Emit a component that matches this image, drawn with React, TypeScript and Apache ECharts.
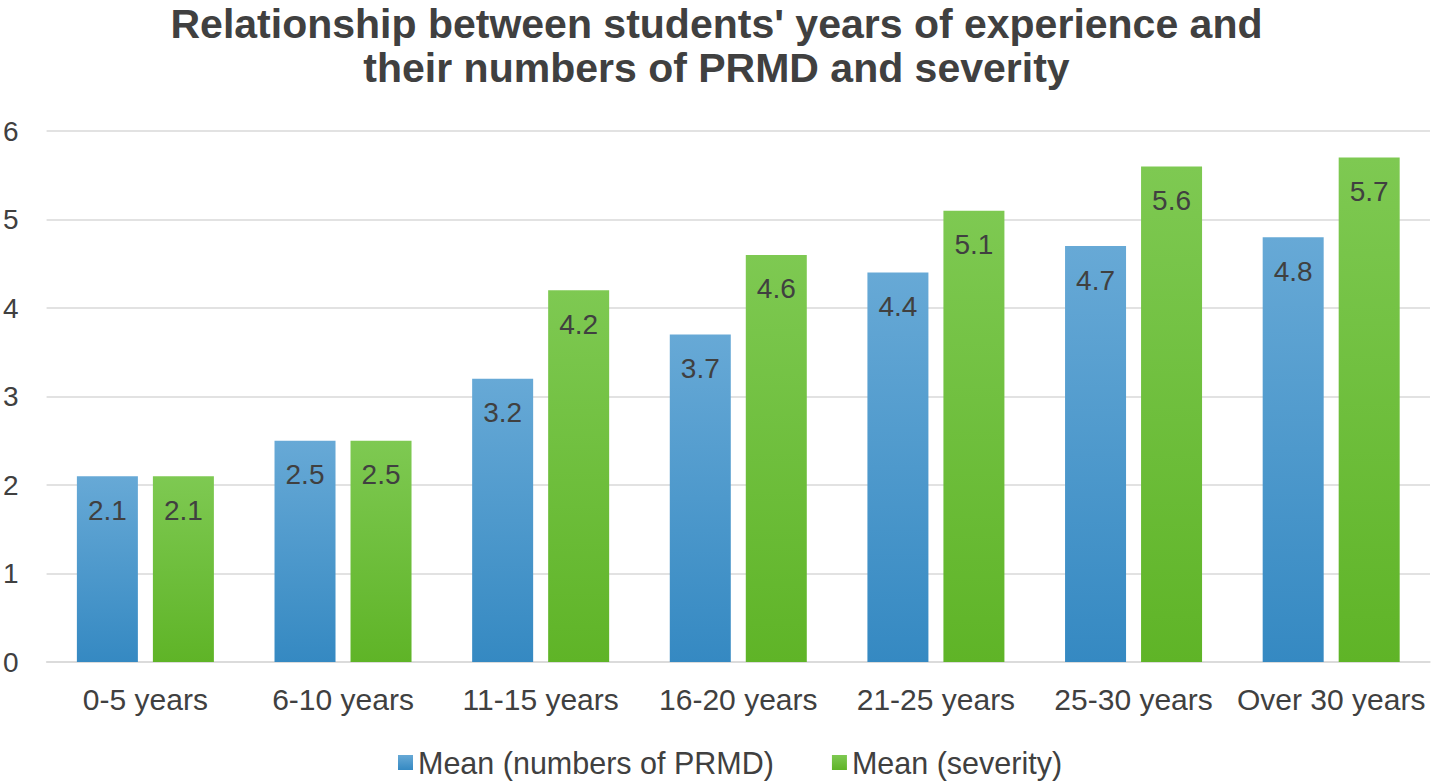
import React, { useEffect, useRef } from "react";
import * as echarts from "echarts";

const categories = ["0-5 years", "6-10 years", "11-15 years", "16-20 years", "21-25 years", "25-30 years", "Over 30 years"];
const meanPRMD = [2.1, 2.5, 3.2, 3.7, 4.4, 4.7, 4.8];
const meanSeverity = [2.1, 2.5, 4.2, 4.6, 5.1, 5.6, 5.7];
const seriesNames = ["Mean (numbers of PRMD)", "Mean (severity)"];
const titleText = "Relationship between students' years of experience and\ntheir numbers of PRMD and severity";

const FONT = "'Liberation Sans', Arial, Helvetica, sans-serif";
const TEXT = "#404040";

export default function App() {
  const ref = useRef<HTMLDivElement>(null);
  useEffect(() => {
    document.body.style.margin = "0";
    const chart = echarts.init(ref.current!, null, { renderer: "svg" });
    const grad = (top: string, bottom: string) =>
      new echarts.graphic.LinearGradient(0, 0, 0, 1, [
        { offset: 0, color: top },
        { offset: 1, color: bottom },
      ]);
    const label = {
      show: true,
      position: "insideTop",
      distance: 20,
      color: TEXT,
      fontSize: 28,
      fontFamily: FONT,
      formatter: (p: any) => p.value.toFixed(1),
    };
    chart.setOption({
      animation: false,
      backgroundColor: "#ffffff",
      title: {
        text: titleText,
        left: "center",
        top: -3,
        textStyle: { color: TEXT, fontSize: 41, fontWeight: "bold", fontFamily: FONT, lineHeight: 44 },
      },
      legend: {
        left: 393,
        top: 742,
        itemWidth: 15,
        itemHeight: 15,
        itemGap: 58,
        icon: "rect",
        textStyle: { color: TEXT, fontSize: 30.5, fontFamily: FONT },
        data: seriesNames,
      },
      grid: { left: 43, right: 3, top: 131, bottom: 121, containLabel: false },
      xAxis: {
        type: "category",
        data: categories,
        axisLine: { show: true, lineStyle: { color: "#d9d9d9", width: 1.5 } },
        axisTick: { show: false },
        axisLabel: { color: TEXT, fontSize: 30, fontFamily: FONT, margin: 22, interval: 0 },
      },
      yAxis: {
        type: "value",
        min: 0,
        max: 6,
        interval: 1,
        axisLine: { show: false },
        axisTick: { show: false },
        splitLine: { lineStyle: { color: "#d9d9d9", width: 1.5 } },
        axisLabel: { color: TEXT, fontSize: 28, fontFamily: FONT, margin: 28 },
      },
      series: [
        {
          name: seriesNames[0],
          type: "bar",
          data: meanPRMD,
          barWidth: 61,
          barGap: "24.6%",
          itemStyle: { color: grad("#67a9d6", "#3589c2") },
          label,
        },
        {
          name: seriesNames[1],
          type: "bar",
          data: meanSeverity,
          barWidth: 61,
          itemStyle: { color: grad("#7ec952", "#5fb427") },
          label,
        },
      ],
    });
    return () => chart.dispose();
  }, []);
  return <div ref={ref} style={{ width: 1433, height: 783 }} />;
}
